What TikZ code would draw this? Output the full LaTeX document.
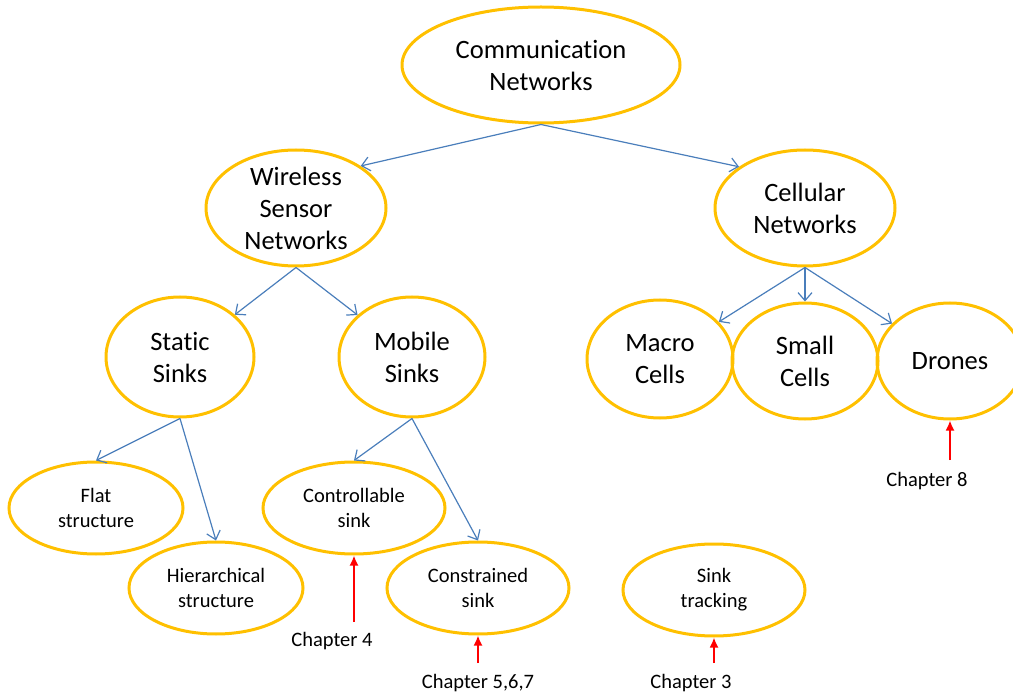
\documentclass[tikz,border=0pt]{standalone}
\usepackage{fontspec}
\setmainfont{Carlito}[Ligatures=NoCommon]
\usetikzlibrary{shapes.geometric,arrows.meta}
\definecolor{gold}{RGB}{255,192,0}
\definecolor{linkblue}{RGB}{74,126,187}
\begin{document}
\begin{tikzpicture}[x=1pt,y=-1pt,
  bub/.style={ellipse,draw=gold,line width=3pt,inner sep=0pt},
  big/.style={align=center,font=\fontsize{26.5}{32}\selectfont},
  small/.style={align=center,font=\fontsize{20.5}{25}\selectfont},
  link/.style={draw=linkblue,line width=1.2pt,-{Straight Barb[length=8pt,width=14pt]}},
  chap/.style={draw=red,line width=1.8pt,-{Latex[length=10pt,width=9pt]}}]
\useasboundingbox (0,0) rectangle (1013,695);

\node[bub,minimum width=278,minimum height=116,label={[big]center:Communication\\Networks}] (comm) at (541,65) {};
\node[bub,minimum width=180,minimum height=116,label={[big]center:Wireless\\Sensor\\Networks}] (wsn) at (296,208) {};
\node[bub,minimum width=180,minimum height=116,label={[big]center:Cellular\\Networks}] (cell) at (805,208) {};

\node[bub,minimum width=148,minimum height=120,label={[big]center:Static\\Sinks}] (static) at (180,357) {};
\node[bub,minimum width=146,minimum height=120,label={[big]center:Mobile\\Sinks}] (mobile) at (412,357) {};
\node[bub,minimum width=146,minimum height=118,label={[big]center:Macro\\Cells}] (macro) at (660,359) {};
\node[bub,minimum width=146,minimum height=116,label={[big]center:Small\\Cells}] (smallc) at (805,361) {};
\node[bub,minimum width=146,minimum height=116,label={[big]center:Drones}] (drone) at (950,361) {};

\node[bub,minimum width=174,minimum height=92,label={[small]center:Flat\\structure}] (flat) at (96,508) {};
\node[bub,minimum width=174,minimum height=92,label={[small]center:Hierarchical\\structure}] (hier) at (216,588) {};
\node[bub,minimum width=182,minimum height=92,label={[small]center:Controllable\\sink}] (ctrl) at (354,508) {};
\node[bub,minimum width=182,minimum height=92,label={[small]center:Constrained\\sink}] (cons) at (478,588) {};
\node[bub,minimum width=182,minimum height=92,label={[small]center:Sink\\tracking}] (track) at (714,590) {};

\draw[link] (comm.south) -- (wsn.33);
\draw[link] (comm.south) -- (cell.148);
\draw[link] (wsn.south) -- (static);
\draw[link] (wsn.south) -- (mobile);
\draw[link] (static.south) -- (flat.north);
\draw[link] (static.south) -- (hier.north);
\draw[link] (mobile.south) -- (ctrl.north);
\draw[link] (mobile.south) -- (cons.north);
\foreach \n in {macro,smallc,drone}
  \draw[link] (cell.south) -- (\n);

\node[small] (ch4) at (332,641) {Chapter 4};
\node[small] (ch5) at (478,683) {Chapter 5,6,7};
\node[small] (ch3) at (691,683) {Chapter 3};
\node[small] (ch8) at (927,481) {Chapter 8};
\coordinate (c4) at (354,622);
\coordinate (c5) at (478,663);
\coordinate (c3) at (714,663);
\coordinate (c8) at (950,460);
\foreach \c/\n in {c4/ctrl,c5/cons,c3/track,c8/drone}
  \draw[chap] (\c) -- (\n.south);

\end{tikzpicture}
\end{document}
